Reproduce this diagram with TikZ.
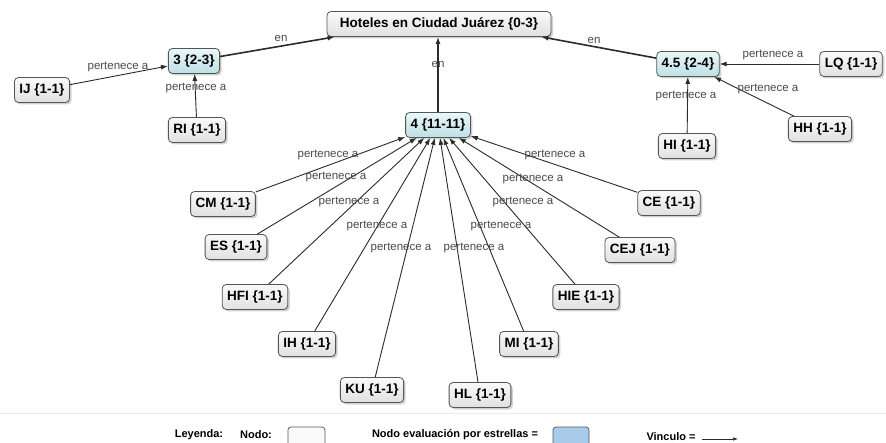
\documentclass[tikz,border=0pt]{standalone}
\usepackage{fontspec}
\setmainfont{Liberation Sans}
\usetikzlibrary{arrows.meta,shadows}
\definecolor{edgec}{HTML}{2B2B2B}
\definecolor{labc}{HTML}{4A4A4A}
\definecolor{boxline}{HTML}{555555}
\definecolor{greytop}{HTML}{FAFAFA}
\definecolor{greybot}{HTML}{E0E0E0}
\definecolor{bluetop}{HTML}{EAF7F8}
\definecolor{bluebot}{HTML}{BDE0E5}
\definecolor{legblue}{HTML}{A9CBEA}
\tikzset{
  conc/.style={draw=boxline, line width=0.8pt, rounded corners=4pt,
    top color=greytop, bottom color=greybot, minimum height=25pt,
    inner xsep=5pt, font=\fontsize{13.5}{14}\selectfont\bfseries,
    drop shadow={opacity=0.35, shadow xshift=2pt, shadow yshift=-2pt}},
  star/.style={conc, top color=bluetop, bottom color=bluebot},
  link/.style={draw=edgec, line width=0.9pt, -{Latex[length=7pt,width=5pt]}},
  mainlink/.style={link, line width=1.6pt},
  lab/.style={text=labc, font=\fontsize{11.5}{12}\selectfont, inner sep=0pt},
  legtxt/.style={font=\fontsize{11}{12}\selectfont\bfseries, inner sep=0pt}
}
\begin{document}
\begin{tikzpicture}[x=1pt,y=-1pt]
\clip (0,0) rectangle (886,443);
\fill[white] (0,0) rectangle (886,443);
% nodes
\node[conc, minimum width=224pt] (H) at (439,24) {Hoteles en Ciudad Juárez {\{0-3\}}};
\node[star] (N3) at (194,61) {3 \{2-3\}};
\node[star] (N4) at (438,125) {4 \{11-11\}};
\node[star] (N45) at (688,64) {4.5 \{2-4\}};
\node[conc] (IJ) at (42,90) {IJ \{1-1\}};
\node[conc] (RI) at (197,130) {RI \{1-1\}};
\node[conc] (LQ) at (851,64) {LQ \{1-1\}};
\node[conc] (HH) at (820,129) {HH \{1-1\}};
\node[conc] (HI) at (687,146) {HI \{1-1\}};
\node[conc] (CM) at (223,204) {CM \{1-1\}};
\node[conc] (ES) at (236,247) {ES \{1-1\}};
\node[conc] (HFI) at (255,297) {HFI \{1-1\}};
\node[conc] (IH) at (307,344) {IH \{1-1\}};
\node[conc] (KU) at (372,390) {KU \{1-1\}};
\node[conc] (HL) at (480,395) {HL \{1-1\}};
\node[conc] (MI) at (529,344) {MI \{1-1\}};
\node[conc] (HIE) at (586,297) {HIE \{1-1\}};
\node[conc] (CEJ) at (640,250) {CEJ \{1-1\}};
\node[conc] (CE) at (669,203) {CE \{1-1\}};
% main links
\draw[mainlink] (N3) -- ([xshift=8pt]H.south west);
\draw[mainlink] (N45) -- ([xshift=-10pt]H.south east);
\draw[mainlink] (N4) -- (N4 |- H.south);
\node[lab] (l1) at (281,38) {en};
\node[lab] (l2) at (594,40) {en};
\node[lab] (l3) at (438,64) {en};
% group 3
\draw[link] (IJ) -- (N3);
\draw[link] (RI) -- (N3);
\node[lab] (l4) at (118,67) {pertenece a};
\node[lab] (l5) at (196,88) {pertenece a};
% group 4.5
\draw[link] (LQ) -- (N45);
\draw[link] (HI) -- (N45);
\draw[link] (HH) -- (N45);
\node[lab] (l6) at (773,55) {pertenece a};
\node[lab] (l7) at (686,96) {pertenece a};
\node[lab] (l8) at (768,89) {pertenece a};
% group 4
\foreach \s in {CM,ES,HFI,IH,KU,HL,MI,HIE,CEJ,CE}{\draw[link] (\s) -- (N4);}
\node[lab] (m1) at (328,155) {pertenece a};
\node[lab] (m2) at (336,177) {pertenece a};
\node[lab] (m3) at (349,202) {pertenece a};
\node[lab] (m4) at (377,226) {pertenece a};
\node[lab] (m5) at (401,248) {pertenece a};
\node[lab] (m6) at (474,248) {pertenece a};
\node[lab] (m7) at (501,226) {pertenece a};
\node[lab] (m8) at (523,202) {pertenece a};
\node[lab] (m9) at (533,179) {pertenece a};
\node[lab] (m10) at (555,155) {pertenece a};
% legend
\draw[draw=black!8, line width=1pt] (0,413) -- (886,413);
\node[legtxt] (ley) at (199,435) {Leyenda:};
\node[legtxt] (nod) at (256,435) {Nodo:};
\draw[draw=boxline, line width=0.7pt, rounded corners=3pt, fill=greytop] (288,427) rectangle (325,452);
\node[legtxt] (nev) at (455,435) {Nodo evaluación por estrellas =};
\draw[draw=boxline, line width=0.7pt, rounded corners=3pt, fill=legblue] (553,427) rectangle (589,452);
\node[legtxt] (vin) at (671,437) {Vinculo =};
\coordinate (va) at (702,439);
\coordinate (vb) at (738,439);
\draw[edgec, line width=0.6pt, -{Latex[length=5pt,width=3.5pt]}] (va) -- (vb);
\end{tikzpicture}
\end{document}
